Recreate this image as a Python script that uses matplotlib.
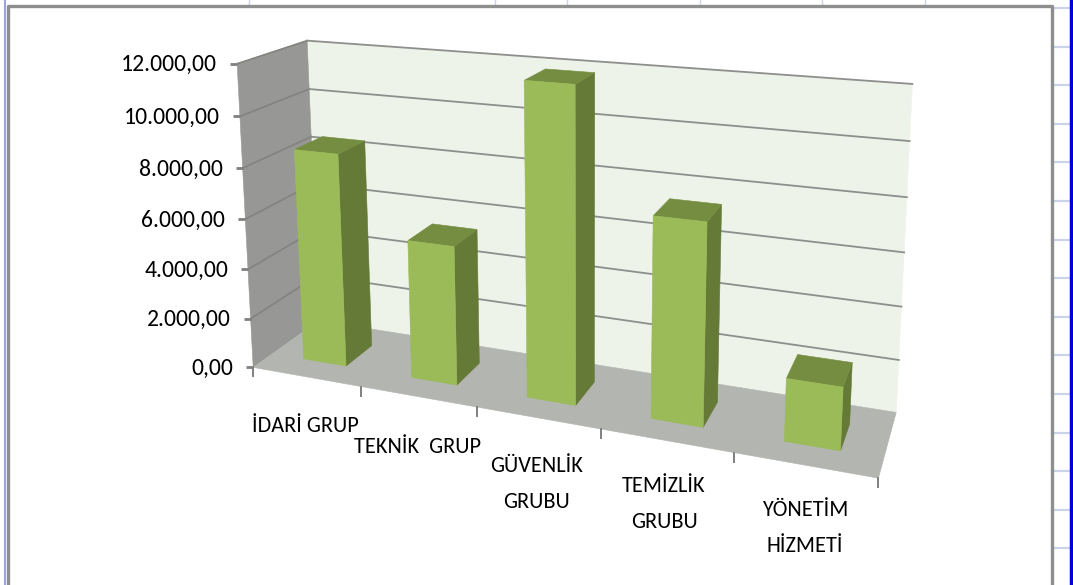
import numpy as np
import matplotlib
matplotlib.use('Agg')
import matplotlib.pyplot as plt

# Datos
categories = ['İDARİ GRUP', 'TEKNİK  GRUP', 'GÜVENLİK\nGRUBU', 'TEMİZLİK\nGRUBU', 'YÖNETİM\nHİZMETİ']
values = [8500, 5450, 11900, 7500, 2300]
value_ticks = [0, 2000, 4000, 6000, 8000, 10000, 12000]
tick_labels = ['0,00', '2.000,00', '4.000,00', '6.000,00', '8.000,00', '10.000,00', '12.000,00']

W, H = 1073, 585
VMAX = 12000.0
NCAT = len(categories)
FONT = ['Carlito', 'Lato']

# puntos de referencia para la perspectiva: (categoria, profundidad, valor) -> pixel
ref_world = [(0, 0, 0), (0, 0, 1), (1, 0, 0), (2, 0, 0), (3, 0, 0), (4, 0, 0), (5, 0, 0),
             (0, 1, 0), (0, 1, 1), (5, 1, 0), (5, 1, 1), (5, 1, 0.5), (0, 1, 0.5)]
ref_pixel = [(254, 367), (238, 63), (360, 388), (476, 408), (600, 430), (733, 453), (880, 475),
             (320, 321), (306, 42), (896, 413), (913, 85), (904, 252), (313, 181)]


def fit_camera(world, pixel):
    rows = []
    for (u, w, v), (px, py) in zip(world, pixel):
        rows.append([u, w, v, 1, 0, 0, 0, 0, -px * u, -px * w, -px * v, -px])
        rows.append([0, 0, 0, 0, u, w, v, 1, -py * u, -py * w, -py * v, -py])
    return np.linalg.svd(np.array(rows, dtype=float))[2][-1].reshape(3, 4)


camera = fit_camera(ref_world, ref_pixel)


def project(u, w, value):
    p = camera @ np.array([u, w, value / VMAX, 1.0])
    return p[0] / p[2], p[1] / p[2]


def face(ax, corners, color, z=2):
    pts = [project(*c) for c in corners]
    ax.fill([p[0] for p in pts], [p[1] for p in pts], color=color, lw=0.4, zorder=z)


fig = plt.figure(figsize=(W / 100, H / 100), dpi=100)
ax = fig.add_axes([0, 0, 1, 1])
ax.set_xlim(0, W)
ax.set_ylim(H, 0)
ax.axis('off')

# marco de la hoja de calculo
for y in np.arange(8, H, 38.6):
    ax.plot([1052, 1069], [y, y], color='#c9d3ea', lw=1.6, zorder=0)
for x in [249, 495, 567, 700, 822, 925]:
    ax.plot([x, x], [0, 5], color='#c9d3ea', lw=1, zorder=0)
ax.plot([5, 5], [0, H], color='#9aa5dc', lw=1.5, zorder=1)
ax.plot([1071, 1071], [0, H], color='#0000d8', lw=2.5, zorder=1)
ax.plot([8, 8, 1052, 1052], [H, 6, 6, H], color='#8e8e8e', lw=2.4, zorder=1)

# paredes y suelo
face(ax, [(0, 1, 0), (5, 1, 0), (5, 1, VMAX), (0, 1, VMAX)], '#eef3e9', 1)
face(ax, [(0, 0, 0), (0, 1, 0), (0, 1, VMAX), (0, 0, VMAX)], '#979895', 1)
face(ax, [(0, 0, 0), (5, 0, 0), (5, 1, 0), (0, 1, 0)], '#b3b5b0', 1)

# lineas de division
for v in value_ticks[1:]:
    a, b, c = project(0, 0, v), project(0, 1, v), project(5, 1, v)
    ax.plot([a[0], b[0]], [a[1], b[1]], color='#82837f', lw=1.2, zorder=1.5)
    ax.plot([b[0], c[0]], [b[1], c[1]], color='#8d8f8c', lw=1.3, zorder=1.5)

# marcas de los ejes
for v, label in zip(value_ticks, tick_labels):
    x, y = project(0, 0, v)
    ax.plot([x - 7, x], [y, y], color='#808080', lw=2, zorder=2, solid_capstyle='butt')
    ax.text(x - 20, y + 1, label, ha='right', va='center', fontsize=17, family=FONT, color='black')
for i in range(NCAT + 1):
    x, y = project(i, 0, 0)
    ax.plot([x, x], [y, y + 9], color='#808080', lw=1.4, zorder=2)

# barras
half_width = 0.2
depth = (0.28, 0.7)
for i, val in enumerate(values):
    u0, u1 = i + 0.5 - half_width, i + 0.5 + half_width
    w0, w1 = depth
    face(ax, [(u1, w0, 0), (u1, w1, 0), (u1, w1, val), (u1, w0, val)], '#667a38', 3 + i)
    face(ax, [(u0, w0, val), (u1, w0, val), (u1, w1, val), (u0, w1, val)], '#758d40', 3 + i)
    face(ax, [(u0, w0, 0), (u1, w0, 0), (u1, w0, val), (u0, w0, val)], '#9bbb59', 3 + i)

# etiquetas de categoria
label_x = [305, 417, 537, 664, 805]
label_y = [426, 447, 484, 504, 528]
for name, x, y in zip(categories, label_x, label_y):
    ax.text(x, y, name, ha='center', va='center', fontsize=16, family=FONT,
            color='black', linespacing=1.95, zorder=10)

fig.savefig('out.png', dpi=100)
